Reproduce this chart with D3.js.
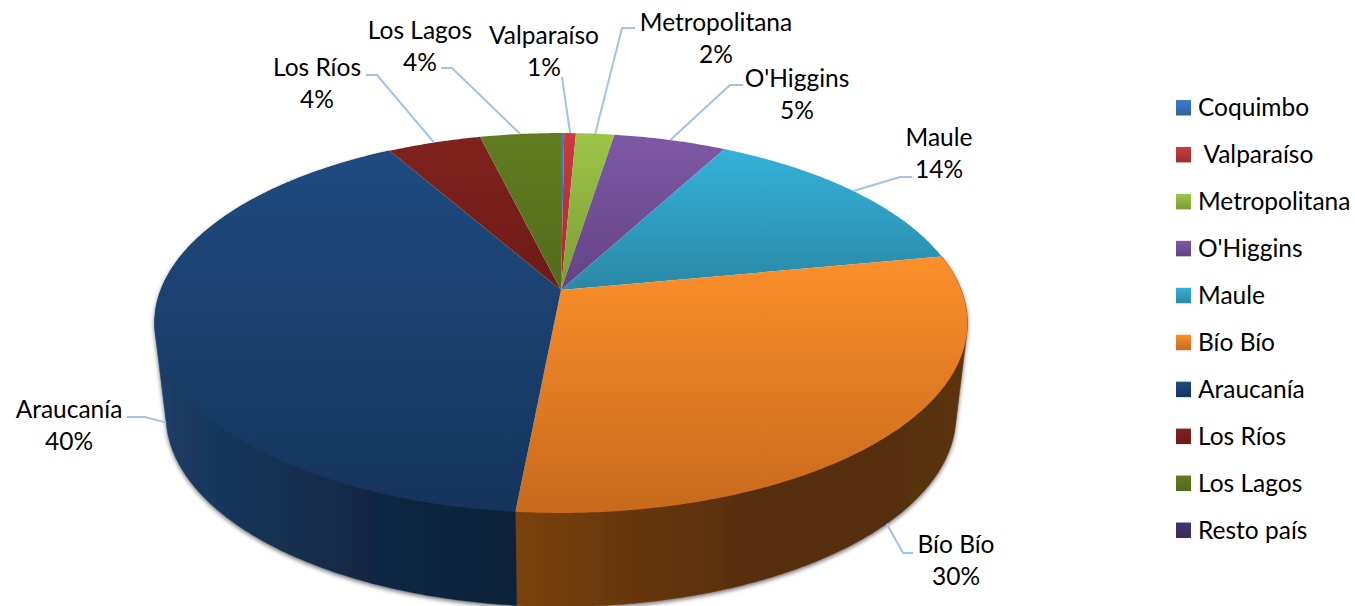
<!DOCTYPE html>
<html><head><meta charset="utf-8">
<script src="https://cdn.jsdelivr.net/npm/d3@7/dist/d3.min.js"></script>
<style>html,body{margin:0;padding:0;background:#fff;overflow:hidden}text{font-family:Lato,"Open Sans",sans-serif;fill:#000;white-space:pre}</style>
</head><body><svg id="c" width="1355" height="606"></svg>
<script>
const categories = ["Coquimbo"," Valparaíso","Metropolitana","O'Higgins","Maule","Bío Bío","Araucanía","Los Ríos","Los Lagos","Resto país"];
const shares = [0.15,0.55,1.8,5.3,14.2,29.5,40.3,4.4,3.8,0];
const topColors = ["#3A7DCB","#CC3B3D","#9DC548","#7E58A6","#34B2D8","#FC8F2B","#1F4B80","#7F221D","#617C20","#43346B"];
const bottomColors = ["#2F629F","#A02C2E","#7C9C36","#654385","#2A88A6","#C8691C","#15345C","#6E1A17","#546B1A","#392A58"];
// label placement: [text centre x, first line y, leader start x, y, elbow x, y]; null = no label
const labelLayout = [null,[544,35,562,77,null,null],[716,22,635,28,622,28],[797,78,743,85,730,85],[939,137,912,177,900,177],[956,544,913,553,903,553],[69,409,127,417,145,417],[317,67,366,75,377,75],[420,30,441,68,452,68],null];

const svg = d3.select("#c");
const defs = svg.append("defs");
const p = 0.1737;
// projective views of the top and bottom disc
const topDisc = {x:561,y:290,a:400.3,b:184.2};
const baseDisc = {x:561,y:382.5,a:389,b:185.2};
const project = (d,ang)=>{const u=Math.sin(ang),v=-Math.cos(ang),w=1-p*v;return [d.x+d.a*u/w,d.y+d.b*v/w];};

const pie = d3.pie().sort(null).value(d=>d).startAngle(0).endAngle(2*Math.PI);
const arcs = pie(shares);
const sample = (s,e)=>{const n=Math.max(2,Math.ceil((e-s)/0.01));return d3.range(n+1).map(i=>s+(e-s)*i/n);};
const line = d3.line();

categories.forEach((c,i)=>{
  const g=defs.append("linearGradient").attr("id","g"+i).attr("x1",0).attr("y1",0).attr("x2",0).attr("y2",1);
  g.append("stop").attr("offset",0).attr("stop-color",topColors[i]);
  g.append("stop").attr("offset",1).attr("stop-color",bottomColors[i]);
});
const sideStops = {
 5:[[515,"#7A4110"],[640,"#663610"],[760,"#552D0D"],[900,"#552F0E"],[968,"#5C3410"]],
 6:[[155,"#1C3D68"],[250,"#173355"],[360,"#122845"],[515,"#0D2037"]]
};
const sideFill = i=>{
  if(!sideStops[i]) return bottomColors[i];
  const st=sideStops[i],x0=st[0][0],x1=st[st.length-1][0];
  const g=defs.append("linearGradient").attr("id","s"+i).attr("gradientUnits","userSpaceOnUse")
    .attr("x1",x0).attr("x2",x1).attr("y1",0).attr("y2",0);
  st.forEach(s=>g.append("stop").attr("offset",(s[0]-x0)/(x1-x0)).attr("stop-color",s[1]));
  return "url(#s"+i+")";
};
const f=defs.append("filter").attr("id","sh").attr("x","-5%").attr("y","-5%").attr("width","110%").attr("height","115%");
f.append("feDropShadow").attr("dx",0).attr("dy",2).attr("stdDeviation",2.2).attr("flood-color","#000").attr("flood-opacity",0.55);

// walls
const walls=svg.append("g").attr("filter","url(#sh)");
arcs.forEach((a,i)=>{
  if(a.endAngle-a.startAngle<=0) return;
  const mid=(a.startAngle+a.endAngle)/2;
  if(Math.cos(mid)>0) return;
  const pts=sample(a.startAngle,a.endAngle).flatMap(t=>[project(topDisc,t),project(baseDisc,t)]);
  const fill=sideFill(i);
  walls.append("path").attr("d",line(d3.polygonHull(pts))+"Z").attr("fill",fill).attr("stroke",fill).attr("stroke-width",0.4);
});
// top faces
const faces=svg.append("g");
arcs.forEach((a,i)=>{
  if(a.endAngle-a.startAngle<=0) return;
  const pts=[[topDisc.x,topDisc.y],...sample(a.startAngle,a.endAngle).map(t=>project(topDisc,t))];
  faces.append("path").attr("d",line(pts)+"Z").attr("fill","url(#g"+i+")");
});
// leaders and labels
const fs=24.5, lh=32;
const lab=svg.append("g");
arcs.forEach((a,i)=>{
  const L=labelLayout[i]; if(!L) return;
  const mid=(a.startAngle+a.endAngle)/2;
  const end=project(Math.cos(mid)<0?baseDisc:topDisc,mid);
  const pts=[[L[2],L[3]]]; if(L[4]!==null) pts.push([L[4],L[5]]); pts.push(end);
  lab.append("path").attr("d",line(pts)).attr("fill","none").attr("stroke","#A2C3E8").attr("stroke-width",2);
  lab.append("text").attr("x",L[0]).attr("y",L[1]).attr("text-anchor","middle").attr("dy","0.35em").attr("font-size",fs).text(categories[i].trim());
  lab.append("text").attr("x",L[0]).attr("y",L[1]+lh).attr("text-anchor","middle").attr("dy","0.35em").attr("font-size",fs).text(d3.format(".0f")(a.data)+"%");
});
// legend
const ly=d3.scalePoint().domain(categories).range([107.5,530]);
const leg=svg.append("g");
categories.forEach((c,i)=>{
  leg.append("rect").attr("x",1176).attr("y",ly(c)-7.5).attr("width",15).attr("height",15.5).attr("fill","url(#g"+i+")");
  leg.append("text").attr("x",1198).attr("y",ly(c)).attr("dy","0.35em").attr("font-size",fs).text(c);
});
</script></body></html>
